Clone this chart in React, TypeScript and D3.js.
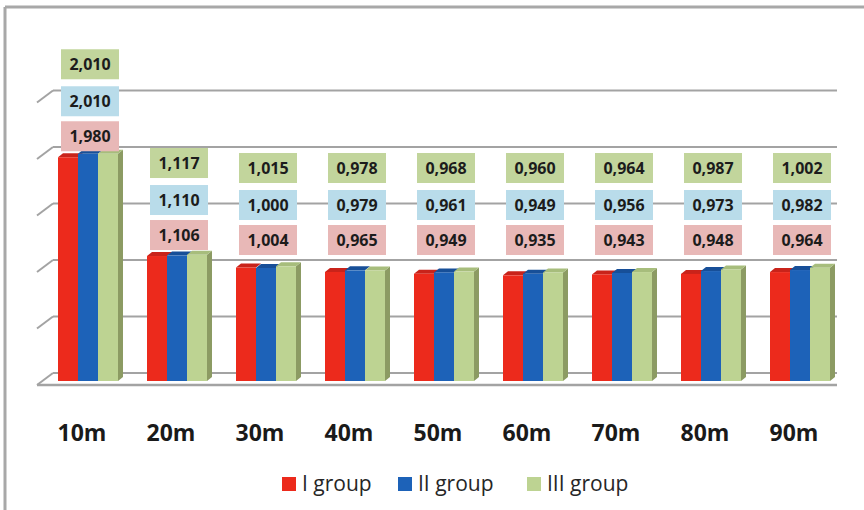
import React from "react";
import * as d3 from "d3";

// Chart data
const categories = ["10m", "20m", "30m", "40m", "50m", "60m", "70m", "80m", "90m"];
const seriesNames = ["I group", "II group", "III group"];
const group1 = [1.98, 1.106, 1.004, 0.965, 0.949, 0.935, 0.943, 0.948, 0.964];
const group2 = [2.01, 1.11, 1.0, 0.979, 0.961, 0.949, 0.956, 0.973, 0.982];
const group3 = [2.01, 1.117, 1.015, 0.978, 0.968, 0.96, 0.964, 0.987, 1.002];
const yTicks = [0, 0.5, 1, 1.5, 2, 2.5];

const W = 864;
const H = 510;

// 3D geometry
const DEPTH_X = 16; // floor front -> back wall
const DEPTH_Y = 12;
const BAR_DX = 5; // bar depth
const BAR_DY = 4;
const BASE_FRONT = 381; // baseline of bar front faces
const BACK_SHIFT_Y = 8; // bar front -> back wall

const barColors = ["#ec2a1c", "#1d62b8", "#bdd392"];
const barTopColors = ["#c9231a", "#174f98", "#a7bd7c"];
const sideColor = "#8c9b63";
const boxColors = ["#e8b8b7", "#b9dcea", "#c2d59c"];

const fmt = (v: number) => v.toFixed(3).replace(".", ",");

export default function App() {
  const series = [group1, group2, group3];

  const y = d3.scaleLinear().domain([0, 2.5]).range([BASE_FRONT, BASE_FRONT - 282.5]);

  const x = d3
    .scaleBand<string>()
    .domain(categories)
    .range([43.5, 844.5])
    .paddingInner(0.326)
    .paddingOuter(0.163);

  const sub = d3
    .scaleBand<number>()
    .domain([0, 1, 2])
    .range([0, x.bandwidth()]);

  const wallLeft = 53;
  const wallRight = 837;
  const backY = (v: number) => y(v) - BACK_SHIFT_Y;

  return (
    <svg
      width={W}
      height={H}
      style={{ position: "absolute", left: 0, top: 0, background: "#fff" }}
      fontFamily="'Open Sans', sans-serif"
    >
      {/* outer frame */}
      <line x1={5} y1={7} x2={W} y2={7} stroke="#a8a8a8" strokeWidth={3} />
      <line x1={5} y1={7} x2={5} y2={H} stroke="#a8a8a8" strokeWidth={3} />

      {/* gridlines on side wall and back wall */}
      {yTicks.map((t) => {
        const by = backY(t);
        return (
          <g key={t} stroke="#a3a3a3" strokeWidth={2} fill="none">
            <line x1={wallLeft - DEPTH_X} y1={by + DEPTH_Y} x2={wallLeft} y2={by} />
            <line x1={wallLeft} y1={by} x2={wallRight} y2={by} />
          </g>
        );
      })}
      {/* floor front edge */}
      <line
        x1={wallLeft - DEPTH_X}
        y1={backY(0) + DEPTH_Y}
        x2={wallRight}
        y2={backY(0) + DEPTH_Y}
        stroke="#a3a3a3"
        strokeWidth={2.5}
      />

      {/* bars */}
      {categories.map((c, i) => {
        const x0 = x(c) as number;
        return (
          <g key={c}>
            {series.map((s, k) => {
              const bx = x0 + (sub(k) as number);
              const bw = sub.bandwidth();
              const top = y(s[i]);
              const base = y(0);
              return (
                <g key={k}>
                  {k === 2 && (
                    <polygon
                      points={`${bx + bw},${top} ${bx + bw + BAR_DX},${top - BAR_DY} ${bx + bw + BAR_DX},${base - BAR_DY} ${bx + bw},${base}`}
                      fill={sideColor}
                    />
                  )}
                  <polygon
                    points={`${bx},${top} ${bx + BAR_DX},${top - BAR_DY} ${bx + bw + BAR_DX},${top - BAR_DY} ${bx + bw},${top}`}
                    fill={barTopColors[k]}
                  />
                  <rect x={bx} y={top} width={bw} height={base - top} fill={barColors[k]} />
                </g>
              );
            })}
          </g>
        );
      })}

      {/* value labels */}
      {categories.map((c, i) => {
        const cx = (x(c) as number) + x.bandwidth() / 2 + 2;
        const redY = Math.min(y(group1[i]) - 21, 240);
        const ys = [redY, redY - 35, redY - 72];
        return (
          <g key={c}>
            {series.map((s, k) => (
              <g key={k}>
                <rect x={cx - 29} y={ys[k] - 15} width={58} height={30} fill={boxColors[k]} />
                <text
                  x={cx}
                  y={ys[k] + 6}
                  textAnchor="middle"
                  fontSize={16}
                  fontWeight={700}
                  fill="#1c1c1c"
                >
                  {fmt(s[i])}
                </text>
              </g>
            ))}
          </g>
        );
      })}

      {/* category labels */}
      {categories.map((c) => (
        <text
          key={c}
          x={(x(c) as number) + x.bandwidth() / 2 - 6}
          y={441}
          textAnchor="middle"
          fontSize={23}
          fontWeight={700}
          fill="#1a1a1a"
        >
          {c}
        </text>
      ))}

      {/* legend */}
      {seriesNames.map((n, k) => {
        const lx = [282, 398, 527][k];
        return (
          <g key={n}>
            <rect x={lx} y={477} width={14} height={14} fill={barColors[k]} />
            <text x={lx + 20} y={491} fontSize={21} fill="#262626">
              {n}
            </text>
          </g>
        );
      })}
    </svg>
  );
}
